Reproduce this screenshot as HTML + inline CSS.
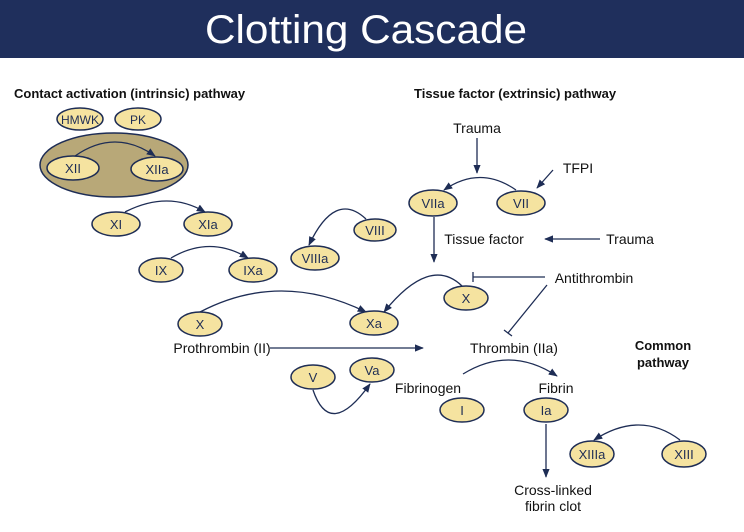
<!DOCTYPE html>
<html><head><meta charset="utf-8"><style>
body{margin:0;width:744px;height:527px;overflow:hidden;background:#fff}
</style></head><body>
<svg width="744" height="527" viewBox="0 0 744 527" xmlns="http://www.w3.org/2000/svg" font-family="Liberation Sans, sans-serif">
<defs><marker id="a" viewBox="0 0 10 10" refX="9" refY="5" markerWidth="7" markerHeight="7" orient="auto"><path d="M0,1 L10,5 L0,9 Z" fill="#1e2d55"/></marker></defs>
<rect x="0" y="0" width="744" height="58" fill="#1f2f5c"/>
<text x="366" y="43" font-size="40" fill="#fff" text-anchor="middle" textLength="322" lengthAdjust="spacingAndGlyphs">Clotting Cascade</text>
<text x="14" y="98" font-size="13" font-weight="bold" fill="#111">Contact activation (intrinsic) pathway</text>
<text x="414" y="98" font-size="13" font-weight="bold" fill="#111">Tissue factor (extrinsic) pathway</text>
<ellipse cx="114" cy="165" rx="74" ry="32" fill="#b8a878" stroke="#1e2d55" stroke-width="1.5"/>
<g fill="#f5e3a0" stroke="#1e2d55" stroke-width="1.5">
<ellipse cx="80" cy="119" rx="23" ry="11"/><ellipse cx="138" cy="119" rx="23" ry="11"/>
<ellipse cx="73" cy="168" rx="26" ry="12"/><ellipse cx="157" cy="169" rx="26" ry="12"/>
<ellipse cx="116" cy="224" rx="24" ry="12"/><ellipse cx="208" cy="224" rx="24" ry="12"/>
<ellipse cx="161" cy="270" rx="22" ry="12"/><ellipse cx="253" cy="270" rx="24" ry="12"/>
<ellipse cx="315" cy="258" rx="24" ry="12"/><ellipse cx="375" cy="230" rx="21" ry="11"/>
<ellipse cx="433" cy="203" rx="24" ry="13"/><ellipse cx="521" cy="203" rx="24" ry="12"/>
<ellipse cx="466" cy="298" rx="22" ry="12"/><ellipse cx="374" cy="323" rx="24" ry="12"/>
<ellipse cx="200" cy="324" rx="22" ry="12"/><ellipse cx="313" cy="377" rx="22" ry="12"/>
<ellipse cx="372" cy="370" rx="22" ry="12"/><ellipse cx="462" cy="410" rx="22" ry="12"/>
<ellipse cx="546" cy="410" rx="22" ry="12"/><ellipse cx="592" cy="454" rx="22" ry="13"/>
<ellipse cx="684" cy="454" rx="22" ry="13"/>
</g>
<g font-size="13" fill="#1e2d55" text-anchor="middle">
<text x="80" y="124" font-size="12">HMWK</text><text x="138" y="124" font-size="12">PK</text>
<text x="73" y="173">XII</text><text x="157" y="174">XIIa</text>
<text x="116" y="229">XI</text><text x="208" y="229">XIa</text>
<text x="161" y="275">IX</text><text x="253" y="275">IXa</text>
<text x="315" y="263">VIIIa</text><text x="375" y="235">VIII</text>
<text x="433" y="208">VIIa</text><text x="521" y="208">VII</text>
<text x="466" y="303">X</text><text x="374" y="328">Xa</text>
<text x="200" y="329">X</text><text x="313" y="382">V</text>
<text x="372" y="375">Va</text><text x="462" y="415">I</text>
<text x="546" y="415">Ia</text><text x="592" y="459">XIIIa</text>
<text x="684" y="459">XIII</text>
</g>
<g font-size="14" fill="#111" text-anchor="middle">
<text x="477" y="133">Trauma</text>
<text x="578" y="173">TFPI</text>
<text x="484" y="244">Tissue factor</text>
<text x="630" y="244">Trauma</text>
<text x="594" y="283">Antithrombin</text>
<text x="514" y="353">Thrombin (IIa)</text>
<text x="222" y="353">Prothrombin (II)</text>
<text x="428" y="393">Fibrinogen</text>
<text x="556" y="393">Fibrin</text>
<text x="553" y="495">Cross-linked</text>
<text x="553" y="511">fibrin clot</text>
<text x="663" y="350" font-size="13" font-weight="bold">Common</text>
<text x="663" y="367" font-size="13" font-weight="bold">pathway</text>
</g>
<g fill="none" stroke="#1e2d55" stroke-width="1.3">
<path d="M75,156 Q115,128 155,156" marker-end="url(#a)"/>
<path d="M125,212 Q168,190 205,212" marker-end="url(#a)"/>
<path d="M171,258 Q210,235 248,258" marker-end="url(#a)"/>
<path d="M366,219 Q335,190 309,245" marker-end="url(#a)"/>
<path d="M477,138 L477,173" marker-end="url(#a)"/>
<path d="M553,170 L537,188" marker-end="url(#a)"/>
<path d="M516,190 Q480,165 444,190" marker-end="url(#a)"/>
<path d="M600,239 L545,239" marker-end="url(#a)"/>
<path d="M434,217 L434,262" marker-end="url(#a)"/>
<path d="M462,286 Q430,255 384,312" marker-end="url(#a)"/>
<path d="M545,277 L473,277 M473,272 L473,282"/>
<path d="M547,285 L508,333 M504,330 L512,336"/>
<path d="M200,312 Q280,270 366,312" marker-end="url(#a)"/>
<path d="M270,348 L423,348" marker-end="url(#a)"/>
<path d="M313,390 Q330,440 370,384" marker-end="url(#a)"/>
<path d="M463,374 Q510,345 557,376" marker-end="url(#a)"/>
<path d="M546,424 L546,477" marker-end="url(#a)"/>
<path d="M680,440 Q640,410 594,440" marker-end="url(#a)"/>
</g>
</svg>
</body></html>
